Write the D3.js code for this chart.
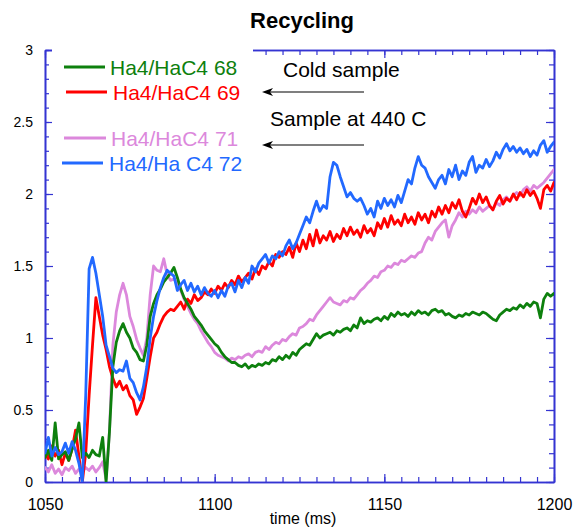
<!DOCTYPE html>
<html>
<head>
<meta charset="utf-8">
<script src="https://cdn.jsdelivr.net/npm/d3@7"></script>
<style>
  html, body { margin: 0; padding: 0; background: #fff; }
  svg { display: block; font-family: "Liberation Sans", Arial, Helvetica, sans-serif; }
</style>
</head>
<body>
<svg id="chart" width="576" height="530"></svg>
<script>
// ---- data: Ha4/HaC4 ratio, one sample per ms starting at 1050 ms ----
const startTimeMs = 1050;
const seriesNames = ["Ha4/HaC4 68", "Ha4/HaC4 69", "Ha4/HaC4 71", "Ha4/Ha C4 72"];

const shot68 = [
  0.17,0.22,0.15,0.41,0.16,0.19,0.21,0.15,0.23,0.30,
  0.41,0.17,0.20,0.17,0.22,0.19,0.18,0.31,0.00,0.35,
  0.80,0.97,1.05,1.10,1.04,1.00,0.93,0.90,0.85,0.84,
  0.95,1.15,1.24,1.30,1.34,1.39,1.42,1.45,1.49,1.42,
  1.34,1.28,1.24,1.20,1.15,1.12,1.09,1.05,1.02,0.99,
  0.96,0.94,0.90,0.87,0.85,0.83,0.83,0.81,0.80,0.82,
  0.79,0.81,0.80,0.82,0.81,0.83,0.82,0.85,0.84,0.87,
  0.85,0.88,0.86,0.90,0.88,0.92,0.94,0.96,0.95,0.99,
  1.03,1.00,1.02,1.03,1.04,1.02,1.05,1.04,1.06,1.07,
  1.05,1.09,1.07,1.14,1.10,1.12,1.11,1.13,1.14,1.12,
  1.15,1.13,1.17,1.15,1.18,1.16,1.17,1.15,1.18,1.16,
  1.19,1.17,1.18,1.16,1.19,1.20,1.18,1.19,1.16,1.17,
  1.15,1.14,1.16,1.15,1.17,1.16,1.18,1.17,1.16,1.18,
  1.17,1.15,1.13,1.12,1.16,1.18,1.20,1.19,1.21,1.20,
  1.23,1.21,1.24,1.22,1.25,1.24,1.14,1.27,1.31,1.29,
  1.31
];

const shot69 = [
  0.20,0.16,0.25,0.18,0.22,0.12,0.20,0.15,0.23,0.36,
  0.18,0.00,0.20,0.60,0.95,1.28,1.15,1.02,0.92,0.80,
  0.72,0.66,0.70,0.64,0.67,0.60,0.57,0.47,0.52,0.58,
  0.72,0.87,1.00,1.04,1.10,1.15,1.18,1.20,1.19,1.22,
  1.25,1.20,1.27,1.24,1.30,1.26,1.28,1.32,1.30,1.34,
  1.31,1.36,1.33,1.38,1.35,1.40,1.37,1.43,1.39,1.42,
  1.45,1.41,1.48,1.44,1.50,1.48,1.53,1.50,1.58,1.56,
  1.60,1.58,1.63,1.56,1.66,1.60,1.68,1.62,1.72,1.64,
  1.75,1.66,1.71,1.68,1.74,1.67,1.72,1.69,1.76,1.71,
  1.77,1.72,1.75,1.70,1.78,1.73,1.76,1.71,1.80,1.76,
  1.83,1.77,1.85,1.79,1.82,1.78,1.86,1.80,1.84,1.79,
  1.87,1.82,1.86,1.80,1.88,1.84,1.91,1.86,1.92,1.87,
  1.94,1.90,1.96,1.88,1.84,1.90,1.97,1.93,2.00,1.94,
  1.98,1.92,1.89,1.95,1.99,1.93,1.97,1.95,2.00,1.96,
  2.01,1.98,2.03,1.99,2.02,1.97,1.90,2.03,2.06,2.02,
  2.08
];

const shot71 = [
  0.10,0.07,0.12,0.06,0.09,0.05,0.10,0.08,0.11,0.06,
  0.09,0.07,0.10,0.08,0.11,0.07,0.10,0.14,0.02,0.35,
  0.95,1.18,1.30,1.38,1.30,1.15,1.08,0.99,0.93,0.88,
  1.00,1.30,1.50,1.47,1.46,1.55,1.44,1.40,1.41,1.38,
  1.33,1.27,1.22,1.17,1.13,1.10,1.05,1.01,0.97,0.94,
  0.90,0.88,0.87,0.86,0.84,0.86,0.85,0.87,0.86,0.88,
  0.89,0.87,0.90,0.91,0.90,0.94,0.92,0.95,0.97,0.96,
  0.99,0.98,1.01,1.03,1.02,1.07,1.08,1.10,1.13,1.12,
  1.16,1.19,1.22,1.25,1.28,1.25,1.24,1.23,1.26,1.25,
  1.28,1.27,1.30,1.33,1.35,1.38,1.40,1.43,1.42,1.46,
  1.47,1.50,1.49,1.52,1.51,1.54,1.53,1.55,1.57,1.56,
  1.59,1.60,1.66,1.70,1.68,1.74,1.77,1.80,1.82,1.70,
  1.78,1.82,1.87,1.84,1.88,1.86,1.89,1.87,1.91,1.88,
  1.90,1.92,1.89,1.94,1.92,1.96,1.98,1.95,1.99,2.01,
  1.99,2.03,2.05,2.02,2.06,2.04,2.06,2.08,2.11,2.14,
  2.17
];

const shot72 = [
  0.20,0.31,0.18,0.24,0.19,0.21,0.27,0.20,0.28,0.22,
  0.13,0.00,0.60,1.48,1.56,1.45,1.30,1.15,0.95,0.87,
  0.79,0.76,0.78,0.77,0.84,0.72,0.69,0.62,0.57,0.66,
  0.80,1.00,1.15,1.26,1.35,1.42,1.47,1.45,1.43,1.33,
  1.37,1.40,1.33,1.38,1.32,1.36,1.30,1.35,1.31,1.29,
  1.33,1.28,1.33,1.29,1.36,1.38,1.32,1.40,1.35,1.42,
  1.38,1.50,1.46,1.52,1.55,1.58,1.52,1.57,1.55,1.60,
  1.57,1.64,1.68,1.62,1.66,1.72,1.78,1.84,1.80,1.88,
  1.95,1.88,1.92,1.90,2.12,2.22,2.20,2.12,2.05,1.98,
  2.01,1.97,1.95,1.97,1.92,1.86,1.90,1.84,1.95,1.90,
  1.97,1.92,1.96,1.91,1.99,1.94,2.02,2.10,2.07,2.18,
  2.26,2.20,2.18,2.12,2.08,2.04,2.10,2.13,2.07,2.17,
  2.12,2.20,2.10,2.16,2.13,2.22,2.26,2.15,2.20,2.18,
  2.24,2.19,2.23,2.29,2.25,2.31,2.35,2.30,2.33,2.29,
  2.32,2.28,2.31,2.26,2.30,2.27,2.34,2.37,2.29,2.33,
  2.36
];

const xTickLabels = [1050, 1100, 1150, 1200];
const yTickLabels = [0, 0.5, 1, 1.5, 2, 2.5, 3];
const annotationTexts = ["Cold sample", "Sample at 440 C"];

// ---- layout ----
const svg = d3.select("#chart");
const plot = { left: 45, right: 554, top: 50, bottom: 482 };
const axisColor = "#3434d2";
const colors = ["#0d800d", "#ff0000", "#dc88dc", "#2269ff"];
const seriesValues = [shot68, shot69, shot71, shot72];

const x = d3.scaleLinear().domain([1050, 1200]).range([plot.left, plot.right]);
const y = d3.scaleLinear().domain([0, 3]).range([plot.bottom, plot.top]);

// title
svg.append("text")
  .attr("x", 302).attr("y", 28)
  .attr("text-anchor", "middle")
  .attr("font-size", 22).attr("font-weight", "bold")
  .text("Recycling");

// ---- frame and ticks (all ticks point into the plot) ----
const minorX = d3.range(1050, 1201, 5);
const minorY = d3.range(0, 31).map(i => i / 10);

function styleAxis(g) {
  g.select(".domain").attr("stroke", axisColor).attr("stroke-width", 1.6);
  g.selectAll(".tick line").attr("stroke", axisColor).attr("stroke-width", 1.2);
  g.selectAll(".tick text").attr("fill", "#000");
}

const gx = (gen, ty) => svg.append("g").attr("transform", `translate(0,${ty})`).call(gen).call(styleAxis);
const gy = (gen, tx) => svg.append("g").attr("transform", `translate(${tx},0)`).call(gen).call(styleAxis);

gx(d3.axisBottom(x).tickValues(minorX).tickSize(-5).tickSizeOuter(0).tickFormat(""), plot.bottom);
gx(d3.axisBottom(x).tickValues(xTickLabels).tickSize(-8).tickSizeOuter(0).tickPadding(17)
     .tickFormat(d3.format("d")), plot.bottom)
  .attr("font-size", 16).attr("font-family", null);
gx(d3.axisTop(x).tickValues(minorX).tickSize(-5).tickSizeOuter(0).tickFormat(""), plot.top);
gx(d3.axisTop(x).tickValues(xTickLabels).tickSize(-8).tickSizeOuter(0).tickFormat(""), plot.top);

gy(d3.axisLeft(y).tickValues(minorY).tickSize(-4).tickSizeOuter(0).tickFormat(""), plot.left);
gy(d3.axisLeft(y).tickValues(yTickLabels).tickSize(-8).tickSizeOuter(0).tickPadding(12)
     .tickFormat(d3.format("")), plot.left)
  .attr("font-size", 14).attr("font-family", null);
gy(d3.axisRight(y).tickValues(minorY).tickSize(-5).tickSizeOuter(0).tickFormat(""), plot.right);
gy(d3.axisRight(y).tickValues(yTickLabels).tickSize(-8).tickSizeOuter(0).tickFormat(""), plot.right);

// axis title
svg.append("text")
  .attr("x", 303).attr("y", 524)
  .attr("text-anchor", "middle")
  .attr("font-size", 16)
  .text("time (ms)");

// legend background hides the top frame behind the key
svg.append("rect")
  .attr("x", 52).attr("y", 42).attr("width", 201).attr("height", 138)
  .attr("fill", "#fff");

// ---- data traces ----
svg.append("clipPath").attr("id", "plotClip")
  .append("rect")
  .attr("x", plot.left).attr("y", plot.top - 2)
  .attr("width", plot.right - plot.left).attr("height", plot.bottom - plot.top + 2);

const line = d3.line()
  .x((d, i) => x(startTimeMs + i))
  .y(d => y(d));

const drawOrder = [2, 1, 0, 3];
const traces = svg.append("g").attr("clip-path", "url(#plotClip)");
drawOrder.forEach(k => {
  traces.append("path")
    .datum(seriesValues[k])
    .attr("d", line)
    .attr("fill", "none")
    .attr("stroke", colors[k])
    .attr("stroke-width", 2.8)
    .attr("stroke-linejoin", "round")
    .attr("stroke-linecap", "round");
});

// ---- legend ----
const legendRows = [
  { x1: 64, x2: 105, ly: 67, tx: 110, ty: 75 },
  { x1: 66, x2: 107, ly: 92, tx: 113, ty: 100 },
  { x1: 64, x2: 106, ly: 138, tx: 111, ty: 146 },
  { x1: 62, x2: 103, ly: 163, tx: 109, ty: 171 }
];
const legend = svg.append("g");
seriesNames.forEach((name, k) => {
  const r = legendRows[k];
  legend.append("line")
    .attr("x1", r.x1).attr("x2", r.x2).attr("y1", r.ly).attr("y2", r.ly)
    .attr("stroke", colors[k]).attr("stroke-width", 2.8);
  legend.append("text")
    .attr("x", r.tx).attr("y", r.ty)
    .attr("font-size", 21).attr("fill", colors[k])
    .text(name);
});

// ---- annotations with arrows pointing at the key ----
const notes = [
  { tx: 283, ty: 77, ay: 92 },
  { tx: 270, ty: 126, ay: 145 }
];
const arrowStart = 364, arrowTip = 262;
annotationTexts.forEach((t, k) => {
  const n = notes[k];
  svg.append("text")
    .attr("x", n.tx).attr("y", n.ty)
    .attr("font-size", 21).attr("fill", "#000")
    .text(t);
  svg.append("line")
    .attr("x1", arrowTip + 4).attr("x2", arrowStart)
    .attr("y1", n.ay).attr("y2", n.ay)
    .attr("stroke", "#000").attr("stroke-width", 1.2);
  svg.append("path")
    .attr("d", `M${arrowTip},${n.ay} L${arrowTip + 11},${n.ay - 4} L${arrowTip + 8},${n.ay} L${arrowTip + 11},${n.ay + 4} Z`)
    .attr("fill", "#000");
});
</script>
</body>
</html>
